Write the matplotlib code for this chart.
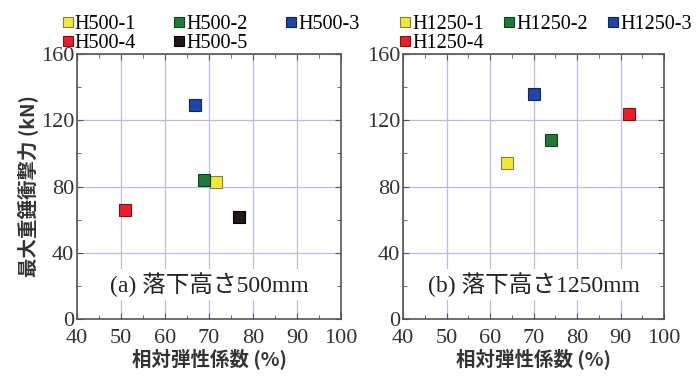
import matplotlib.pyplot as plt
from matplotlib.ticker import MultipleLocator

plt.rcParams['font.family'] = ['Liberation Serif', 'Noto Sans CJK JP']

labels_a = ['H500-1', 'H500-2', 'H500-3', 'H500-4', 'H500-5']
x_a = [71.6, 68.9, 66.8, 50.8, 76.8]
y_a = [82.5, 83.8, 129.0, 65.8, 61.5]

labels_b = ['H1250-1', 'H1250-2', 'H1250-3', 'H1250-4']
x_b = [64.0, 74.0, 70.0, 92.0]
y_b = [94.0, 108.0, 136.0, 124.0]

colors = ['#f2e83a', '#1f7a3a', '#1f45a8', '#e8202a', '#231816']
edges = ['#8a8030', '#10401e', '#10245a', '#801015', '#000000']

fig = plt.figure(figsize=(6.97, 3.79), dpi=100)
ax1 = fig.add_axes([77/697, 1-319/379, 264/697, 265/379])
ax2 = fig.add_axes([403/697, 1-319/379, 261/697, 265/379])


def draw(ax, xs, ys, labels, title, lx, cs):
    handles = []
    for i in range(len(xs)):
        h, = ax.plot(xs[i], ys[i], 's', ms=9, mfc=colors[i], mec=edges[i],
                     mew=0.8, label=labels[i], zorder=3)
        handles.append(h)
    ax.set_xlim(40, 100)
    ax.set_ylim(0, 160)
    ax.xaxis.set_major_locator(MultipleLocator(10))
    ax.xaxis.set_minor_locator(MultipleLocator(5))
    ax.yaxis.set_major_locator(MultipleLocator(40))
    ax.yaxis.set_minor_locator(MultipleLocator(20))
    ax.grid(True, which='major', color='#b8bce0', lw=0.9)
    ax.tick_params(which='both', direction='in', top=True, right=True,
                   labelsize=16, colors='#555555', labelcolor='#333333')
    ax.tick_params(which='major', length=4)
    ax.tick_params(which='minor', length=3)
    ax.tick_params(axis='x', pad=7)
    ax.tick_params(axis='y', pad=2)
    for s in ax.spines.values():
        s.set_color('#555555')
        s.set_linewidth(1.2)
    ax.text(0.5, 0.13, title, transform=ax.transAxes, ha='center', va='center',
            fontsize=17, color='#222222',
            bbox=dict(fc='white', ec='none', pad=2), zorder=4)
    ax.set_xlabel('相対弾性係数 (%)', fontsize=14, fontweight='bold',
                  family=['Noto Sans CJK JP'], color='#333333', labelpad=0)
    # row-major legend order
    n = len(handles)
    order = [0, 3, 1, 4, 2] if n == 5 else [0, 3, 1, 2]
    ax.legend([handles[k] for k in order], [labels[k] for k in order],
              loc='lower left', bbox_to_anchor=(lx, 1.005), ncol=3,
              frameon=False, fontsize=14.5, handlelength=0.5,
              handletextpad=0.1, columnspacing=cs, labelspacing=0.0,
              borderaxespad=0, borderpad=0, markerscale=0.85)


draw(ax1, x_a, y_a, labels_a, '(a) 落下高さ500mm', -0.055, 1.9)
draw(ax2, x_b, y_b, labels_b, '(b) 落下高さ1250mm', -0.01, 1.0)
ax1.set_ylabel('最大重錘衝撃力 (kN)', fontsize=14, fontweight='bold',
               family=['Noto Sans CJK JP'], color='#333333', labelpad=2)

fig.savefig('out.png', dpi=100)
